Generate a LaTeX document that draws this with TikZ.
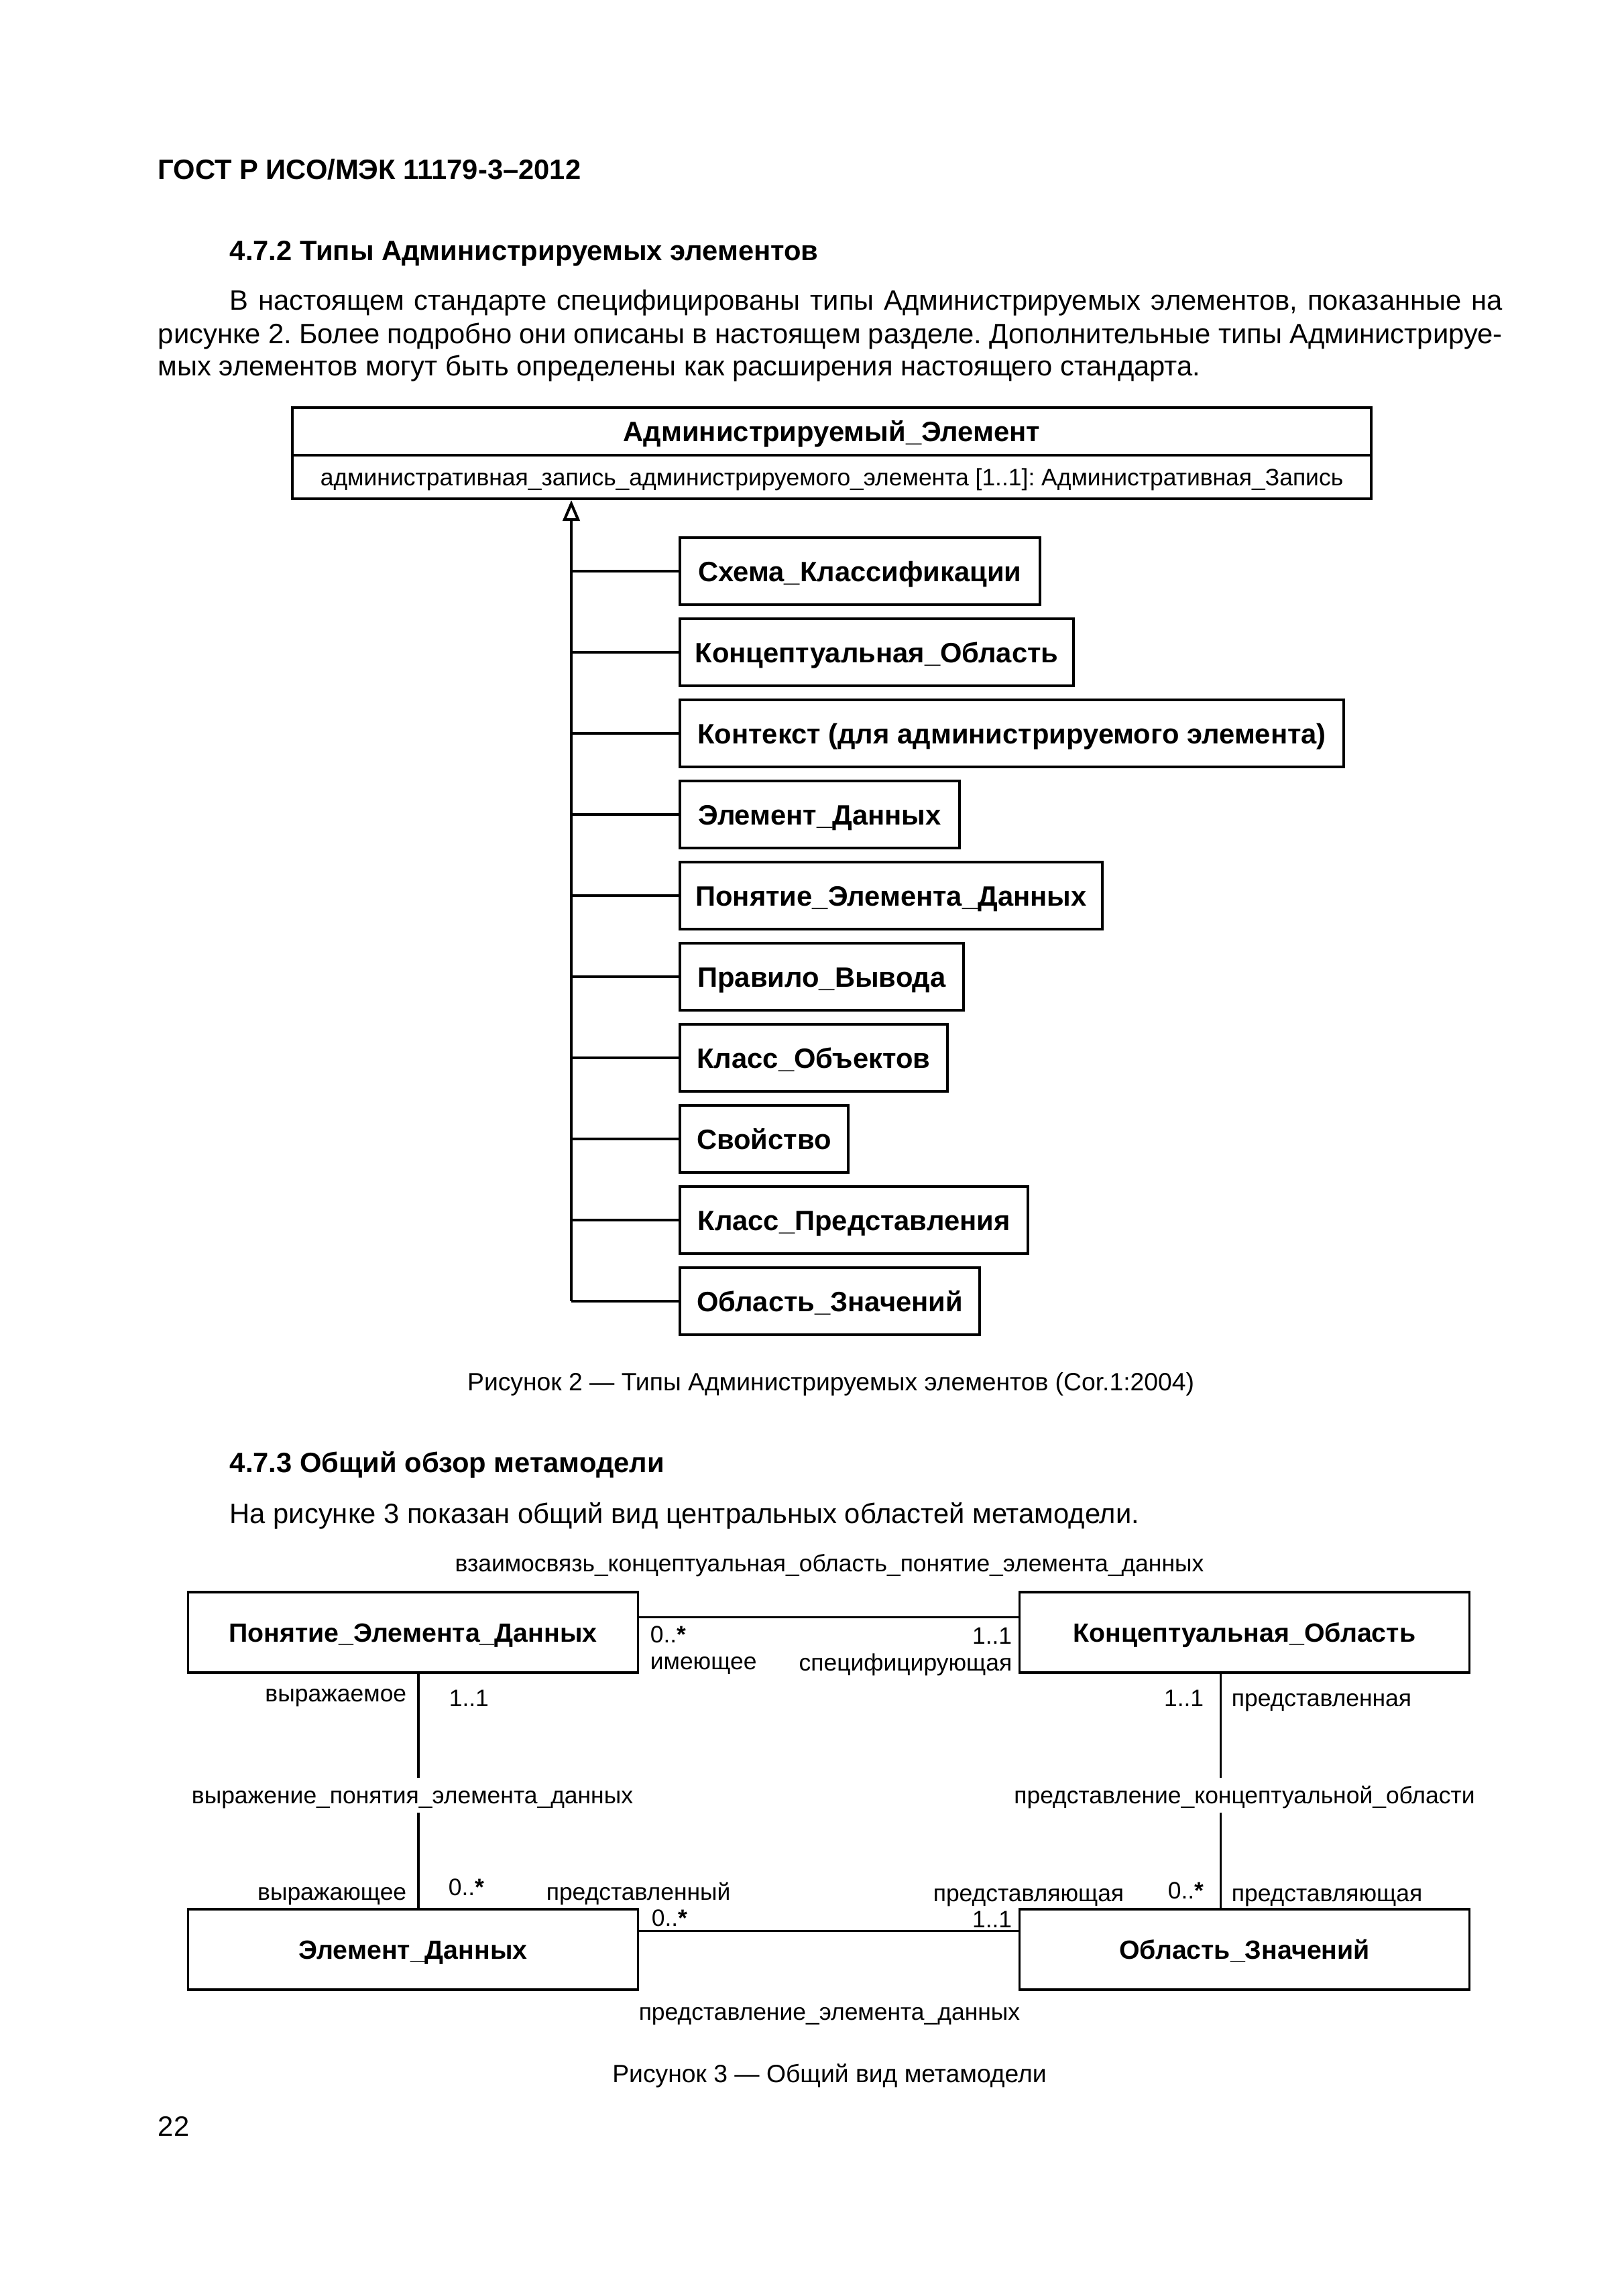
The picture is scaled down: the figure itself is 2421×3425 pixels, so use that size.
\documentclass[tikz,border=0pt]{standalone}
\usepackage{fontspec}
\setmainfont{Liberation Sans}
\usetikzlibrary{arrows.meta}
\def\u{0.08674mm}
\frenchspacing
\begin{document}
\begin{tikzpicture}[x=0.08674mm,y=-0.08674mm,
  body/.style={inner sep=0pt, text height=7.4pt, text depth=0pt, font=\fontsize{10.3pt}{12pt}\selectfont},
  bodyb/.style={body, font=\fontsize{10.3pt}{12pt}\selectfont\bfseries},
  capt/.style={inner sep=0pt, text height=6.6pt, text depth=0pt, font=\fontsize{9.2pt}{11pt}\selectfont},
  lbl/.style={inner sep=0pt, text height=6.3pt, text depth=0pt, font=\fontsize{8.75pt}{11pt}\selectfont},
  cls/.style={draw, line width=1pt, bodyb, minimum height=100*\u, anchor=west},
  cls3/.style={draw, line width=0.8pt, inner sep=0pt, text height=7pt, text depth=0pt, font=\fontsize{9.7pt}{12pt}\selectfont\bfseries, minimum height=120*\u, minimum width=671*\u},
  conn/.style={line width=0.75pt},
  conn2/.style={line width=1pt},
  gap/.style={lbl, minimum height=50*\u}
]
\useasboundingbox[fill=white] (0,0) rectangle (2421,3425);

% header and text
\node[bodyb, anchor=west] (hdr) at (235,253) {ГОСТ Р ИСО/МЭК 11179-3–2012};
\node[bodyb, anchor=west] (h472) at (342,373) {4.7.2 Типы Администрируемых элементов};
\node[body, anchor=west] (p1) at (342,447) {\makebox[164.63mm][s]{В настоящем стандарте специфицированы типы Администрируемых элементов, показанные на}};
\node[body, anchor=west] (p2) at (235,497) {\makebox[173.91mm][s]{рисунке 2. Более подробно они описаны в настоящем разделе. Дополнительные типы Администрируе-}};
\node[body, anchor=west] (p3) at (235,545) {мых элементов могут быть определены как расширения настоящего стандарта.};

% figure 2
\node[draw, line width=1pt, bodyb, minimum width=1609*\u, minimum height=71*\u] (aet) at (1240.5,643.5) {Администрируемый\_Элемент};
\node[draw, line width=1pt, lbl, minimum width=1609*\u, minimum height=65*\u] (aea) at (1240.5,711.5) {административная\_запись\_администрируемого\_элемента [1..1]: Административная\_Запись};

\node[cls, minimum width=537*\u] (b0) at (1012,852) {Схема\_Классификации};
\node[cls, minimum width=587*\u] (b1) at (1012,973) {Концептуальная\_Область};
\node[cls, minimum width=990*\u] (b2) at (1012,1094) {Контекст (для администрируемого элемента)};
\node[cls, minimum width=417*\u] (b3) at (1012,1215) {Элемент\_Данных};
\node[cls, minimum width=630*\u] (b4) at (1012,1336) {Понятие\_Элемента\_Данных};
\node[cls, minimum width=423*\u] (b5) at (1012,1457) {Правило\_Вывода};
\node[cls, minimum width=399*\u] (b6) at (1012,1578) {Класс\_Объектов};
\node[cls, minimum width=251*\u] (b7) at (1012,1699) {Свойство};
\node[cls, minimum width=519*\u] (b8) at (1012,1820) {Класс\_Представления};
\node[cls, minimum width=447*\u] (b9) at (1012,1941) {Область\_Значений};

\coordinate (spine) at (852,1941);
\draw[conn2, -{Triangle[open, length=2.7mm, width=2.2mm]}] (b9.west -| spine) -- (aea.south -| spine);
\foreach \i in {0,...,9} \draw[conn2] (b\i.west -| spine) -- (b\i.west);

\node[capt] (cap2) at (1239,2061) {Рисунок 2 — Типы Администрируемых элементов (Cor.1:2004)};

\node[bodyb, anchor=west] (h473) at (342,2181) {4.7.3 Общий обзор метамодели};
\node[body, anchor=west] (p4) at (342,2257) {На рисунке 3 показан общий вид центральных областей метамодели.};

% figure 3
\node[lbl] (rel1) at (1237,2332) {взаимосвязь\_концептуальная\_область\_понятие\_элемента\_данных};
\node[cls3] (pe) at (616,2435) {Понятие\_Элемента\_Данных};
\node[cls3] (ko) at (1856,2435) {Концептуальная\_Область};
\node[cls3] (ed) at (616,2908) {Элемент\_Данных};
\node[cls3] (oz) at (1856,2908) {Область\_Значений};

\coordinate (ytop) at (0,2412);
\coordinate (ybot) at (0,2880);
\coordinate (xl) at (624,0);
\coordinate (xr) at (1820,0);

\node[gap] (rel2) at (615,2678) {выражение\_понятия\_элемента\_данных};
\node[gap] (rel3) at (1856,2678) {представление\_концептуальной\_области};
\node[lbl] (rel4) at (1237,3001) {представление\_элемента\_данных};

\draw[conn] (pe.east |- ytop) -- (ko.west |- ytop);
\draw[conn] (ed.east |- ybot) -- (oz.west |- ybot);
\draw[conn] (pe.south -| xl) -- (rel2.north -| xl);
\draw[conn] (rel2.south -| xl) -- (ed.north -| xl);
\draw[conn] (ko.south -| xr) -- (rel3.north -| xr);
\draw[conn] (rel3.south -| xr) -- (oz.north -| xr);

\node[lbl, anchor=west] (m1) at (969,2438) {0..\textbf{*}};
\node[lbl, anchor=west] (r1) at (969,2478) {имеющее};
\node[lbl, anchor=east] (m2) at (1510,2440) {1..1};
\node[lbl, anchor=east] (r2) at (1510,2480) {специфицирующая};
\node[lbl, anchor=east] (r3) at (607,2526) {выражаемое};
\node[lbl, anchor=west] (m3) at (669,2533) {1..1};
\node[lbl, anchor=east] (m4) at (1796,2533) {1..1};
\node[lbl, anchor=west] (r4) at (1836,2533) {представленная};
\node[lbl, anchor=east] (r5) at (607,2822) {выражающее};
\node[lbl, anchor=west] (m5) at (668,2815) {0..\textbf{*}};
\node[lbl, anchor=west] (r6) at (814,2822) {представленный};
\node[lbl, anchor=east] (r7) at (1677,2824) {представляющая};
\node[lbl, anchor=west] (m6) at (1741,2820) {0..\textbf{*}};
\node[lbl, anchor=west] (r8) at (1836,2824) {представляющая};
\node[lbl, anchor=west] (m7) at (971,2861) {0..\textbf{*}};
\node[lbl, anchor=east] (m8) at (1510,2863) {1..1};

\node[capt] (cap3) at (1237,3093) {Рисунок 3 — Общий вид метамодели};
\node[body, anchor=west] (pg) at (235,3171) {22};
\end{tikzpicture}
\end{document}
